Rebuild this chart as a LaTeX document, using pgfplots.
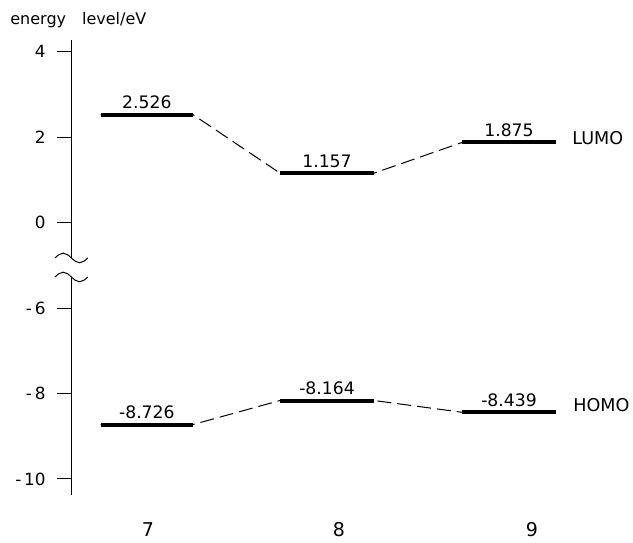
\documentclass[border=0pt]{standalone}
\usepackage{pgfplots}
\pgfplotsset{compat=1.18}
\usepackage{pgfplotstable}
\usepackage{fontspec}
\setmainfont{DejaVu Sans}

% energy levels (eV); HOMO drawn on the broken axis shifted by +4
\pgfplotstableread{
mol xl    xr    lumo   homo
7   100.7 193   2.526  -8.726
8   280   374   1.157  -8.164
9   462   556   1.875  -8.439
}\levels
% level end points for the dashed connectors
\pgfplotstableread{
x     lumo   homo
100.7 2.526  -8.726
193   2.526  -8.726
280   1.157  -8.164
374   1.157  -8.164
462   1.875  -8.439
556   1.875  -8.439
}\pts

\begin{document}
\begin{tikzpicture}
\begin{axis}[
  scale only axis,
  width=280.75pt, height=227.5pt,
  xmin=71.5, xmax=633,
  ymin=-6.375, ymax=4.273,
  axis lines*=left,
  axis line style={draw=none},
  clip=false,
  tick align=outside,
  major tick length=7.25pt,
  ytick={-6,-4,-2,0,2,4},
  yticklabels={-\,10,-\,8,-\,6,0,2,4},
  ytick style={line width=0.5pt, black},
  yticklabel style={font=\fontsize{8.4}{10}\selectfont, xshift=-2.2pt},
  xtick={148,339,532},
  xticklabels={7,8,9},
  xtick style={draw=none},
  xticklabel style={font=\fontsize{9.5}{11}\selectfont, anchor=base, yshift=-13.5pt},
]
% connectors
\addplot[black, line width=0.5pt, dash pattern=on 7pt off 3pt] table[x=x, y=lumo] {\pts};
\addplot[black, line width=0.5pt, dash pattern=on 7pt off 3pt] table[x=x, y expr=\thisrow{homo}+4] {\pts};
% levels
\addplot[black, line width=2pt, quiver={u=\thisrow{xr}-\thisrow{xl}, v=0}] table[x=xl, y=lumo] {\levels};
\addplot[black, line width=2pt, quiver={u=\thisrow{xr}-\thisrow{xl}, v=0}] table[x=xl, y expr=\thisrow{homo}+4] {\levels};
% value labels
\addplot[draw=none, nodes near coords, point meta=explicit symbolic,
  nodes near coords style={anchor=base, inner sep=0pt, yshift=2.85pt, font=\fontsize{8.6}{10}\selectfont}]
  table[x expr={(\thisrow{xl}+\thisrow{xr})/2}, y=lumo, meta=lumo] {\levels};
\addplot[draw=none, nodes near coords, point meta=explicit symbolic,
  nodes near coords style={anchor=base, inner sep=0pt, yshift=2.85pt, font=\fontsize{8.6}{10}\selectfont}]
  table[x expr={(\thisrow{xl}+\thisrow{xr})/2}, y expr=\thisrow{homo}+4, meta=homo] {\levels};
% broken y axis
\draw[line width=0.5pt] (axis cs:71.5,4.273) -- (axis cs:71.5,-0.828);
\draw[line width=0.5pt] (axis cs:71.5,-1.273) -- (axis cs:71.5,-6.375);
\draw[line width=0.5pt] (axis cs:55,-0.828) sin ++(4.1pt,2.4pt) cos ++(4.1pt,-2.4pt) sin ++(4.1pt,-2.4pt) cos ++(4.1pt,2.4pt);
\draw[line width=0.5pt] (axis cs:55,-1.273) sin ++(4.1pt,2.4pt) cos ++(4.1pt,-2.4pt) sin ++(4.1pt,-2.4pt) cos ++(4.1pt,2.4pt);
% texts
\node[anchor=base west, inner sep=0pt, font=\fontsize{8}{10}\selectfont] at (axis cs:10,4.624) {energy\quad level/eV};
\node[anchor=base west, inner sep=0pt, font=\fontsize{8.8}{10}\selectfont] at (axis cs:572,1.816) {LUMO};
\node[anchor=base west, inner sep=0pt, font=\fontsize{8.8}{10}\selectfont] at (axis cs:573,-4.432) {HOMO};
\coordinate (bbll) at (axis cs:0,-7.475);
\coordinate (bbur) at (axis cs:633,5.209);
\end{axis}
\pgfresetboundingbox
\path (bbll) rectangle (bbur);
\end{tikzpicture}
\end{document}
